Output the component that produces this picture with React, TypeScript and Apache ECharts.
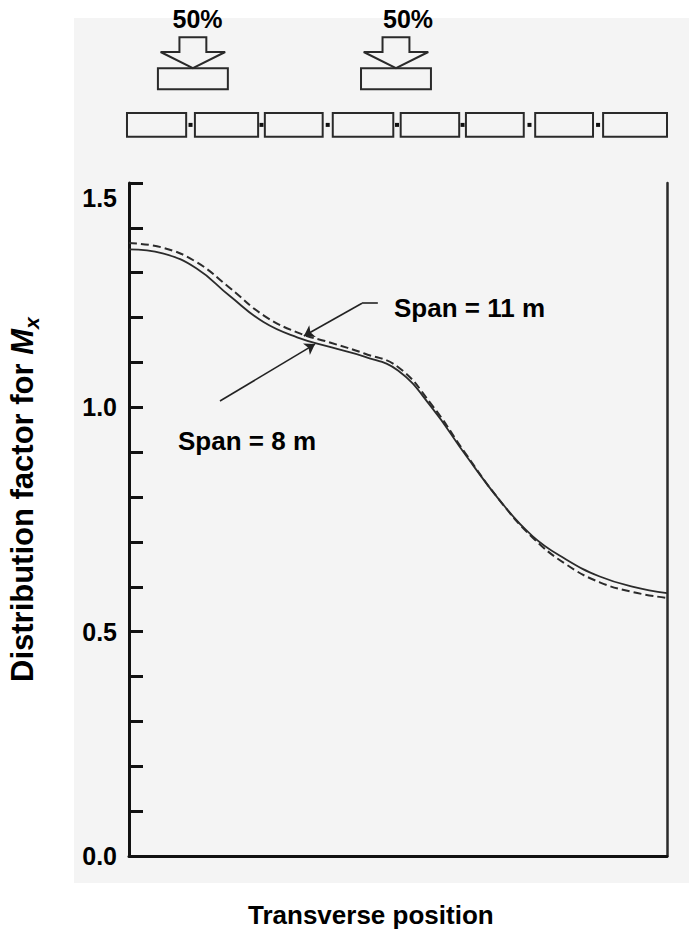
import React, { useEffect, useRef } from "react";
import * as echarts from "echarts";

// Transverse position (beam widths, 0 = left edge beam, 8 = right edge beam)
const positions = [0, 0.5, 1, 1.5, 2, 2.5, 3, 3.5, 4, 4.5, 5, 5.5, 6, 6.5, 7, 7.5, 8];
// Distribution factor for Mx
const span8 = [1.352, 1.343, 1.31, 1.248, 1.19, 1.156, 1.134, 1.113, 1.082, 1.0, 0.895, 0.795, 0.713, 0.661, 0.623, 0.6, 0.586];
const span11 = [1.366, 1.356, 1.324, 1.266, 1.205, 1.167, 1.144, 1.12, 1.09, 1.006, 0.898, 0.795, 0.71, 0.65, 0.61, 0.588, 0.575];

const yTickLabels = ["0.0", "0.5", "1.0", "1.5"];

// beam cross-section boxes (in transverse-position units)
const beamStart = [-0.03, 0.98, 2.02, 3.03, 4.04, 5.01, 6.04, 7.05];
const beamEnd = [0.85, 1.92, 2.88, 3.93, 4.91, 5.87, 6.9, 8.0];

// wheel loads
const loadCenter = [0.95, 3.97];
const loadLabel = ["50%", "50%"];

// annotation pointers
const pointer11 = [[3.7, 1.232], [3.465, 1.232], [2.6, 1.159]];
const pointer8 = [[1.353, 1.014], [2.766, 1.141]];

const FONT = '"Liberation Sans", Arial, Helvetica, sans-serif';

export default function App() {
  const ref = useRef<HTMLDivElement>(null);

  useEffect(() => {
    if (!ref.current) return;
    const chart = echarts.init(ref.current, null, { renderer: "svg" });

    const BEAM_TOP = 1.656;
    const BEAM_BOT = 1.603;
    const BOX_TOP = 1.756;
    const BOX_BOT = 1.709;
    const SHAFT_TOP = 1.825;
    const HEAD_BASE = 1.792;
    const BOX_HALF = 0.52;
    const SHAFT_HALF = 0.2;
    const HEAD_HALF = 0.48;

    const option: any = {
      animation: false,
      backgroundColor: "#ffffff",
      textStyle: { fontFamily: FONT },
      grid: { left: 129, right: 22, top: 183, bottom: 73 },
      xAxis: {
        type: "value",
        min: 0,
        max: 8,
        axisLine: { show: true, onZero: false, lineStyle: { color: "#111", width: 3 } },
        axisTick: { show: false },
        axisLabel: { show: false },
        splitLine: { show: false },
      },
      yAxis: [
        {
          type: "value",
          min: 0,
          max: 1.5,
          interval: 0.1,
          axisLine: { show: true, lineStyle: { color: "#111", width: 3 } },
          axisTick: { show: true, inside: true, length: 14, lineStyle: { color: "#111", width: 3 } },
          axisLabel: {
            margin: 12,
            fontSize: 25,
            fontWeight: "bold",
            color: "#000",
            fontFamily: FONT,
            formatter: (v: number) => {
              const k = Math.round(v * 2);
              if (Math.abs(v * 2 - k) > 1e-6) return "";
              if (k === 3) return "{top|" + yTickLabels[k] + "}";
              return yTickLabels[k] ?? "";
            },
            rich: {
              top: { fontSize: 25, fontWeight: "bold", color: "#000", fontFamily: FONT, padding: [30, 0, 0, 0] },
            },
          },
          splitLine: { show: false },
        },
        {
          type: "value",
          position: "right",
          min: 0,
          max: 1.5,
          axisLine: { show: true, lineStyle: { color: "#2a2a2a", width: 2.5 } },
          axisTick: { show: false },
          axisLabel: { show: false },
          splitLine: { show: false },
        },
      ],
      graphic: [
        {
          type: "rect",
          z: -10,
          silent: true,
          shape: { x: 74, y: 18, width: 615, height: 865 },
          style: { fill: "#f4f4f4" },
        },
        {
          type: "text",
          x: 197.5,
          y: 19,
          style: { text: loadLabel[0], font: `bold 25px ${FONT}`, fill: "#000", textAlign: "center", textVerticalAlign: "middle" },
        },
        {
          type: "text",
          x: 383,
          y: 19,
          style: { text: loadLabel[1], font: `bold 25px ${FONT}`, fill: "#000", textAlign: "left", textVerticalAlign: "middle" },
        },
        {
          type: "text",
          x: 394,
          y: 308,
          style: { text: "Span = 11 m", font: `bold 26px ${FONT}`, fill: "#000", textAlign: "left", textVerticalAlign: "middle" },
        },
        {
          type: "text",
          x: 178,
          y: 441,
          style: { text: "Span = 8 m", font: `bold 26px ${FONT}`, fill: "#000", textAlign: "left", textVerticalAlign: "middle" },
        },
        {
          type: "text",
          x: 248,
          y: 915,
          style: { text: "Transverse position", font: `bold 26px ${FONT}`, fill: "#000", textAlign: "left", textVerticalAlign: "middle" },
        },
        {
          type: "text",
          x: 22,
          y: 682,
          rotation: Math.PI / 2,
          style: {
            text: "Distribution factor for {i|M}{sub|x}",
            font: `bold 31px ${FONT}`,
            fill: "#000",
            textAlign: "left",
            textVerticalAlign: "middle",
            lineHeight: 40,
            rich: {
              i: { fontSize: 31, fontWeight: "bold", fontStyle: "italic", fontFamily: FONT, fill: "#000", lineHeight: 40 },
              sub: { fontSize: 21, fontWeight: "bold", fontStyle: "italic", fontFamily: FONT, fill: "#000", lineHeight: 21, verticalAlign: "bottom" },
            },
          },
        },
      ],
      series: [
        {
          name: "Span = 8 m",
          type: "line",
          data: positions.map((x, i) => [x, span8[i]]),
          showSymbol: false,
          smooth: 0.45,
          lineStyle: { color: "#2b2b2b", width: 1.8, type: "solid" },
          z: 3,
        },
        {
          name: "Span = 11 m",
          type: "line",
          data: positions.map((x, i) => [x, span11[i]]),
          showSymbol: false,
          smooth: 0.45,
          lineStyle: { color: "#2b2b2b", width: 2, type: [8, 4] },
          z: 3,
        },
        {
          type: "lines",
          coordinateSystem: "cartesian2d",
          symbol: ["none", "none"],
          lineStyle: { color: "#222", width: 1.6, opacity: 1 },
          data: [{ coords: [pointer11[0], pointer11[1]] }],
          z: 4,
        },
        {
          type: "lines",
          coordinateSystem: "cartesian2d",
          symbol: ["none", "arrow"],
          symbolSize: 10,
          lineStyle: { color: "#222", width: 1.6, opacity: 1 },
          data: [
            { coords: [pointer11[1], pointer11[2]] },
            { coords: [pointer8[0], pointer8[1]] },
          ],
          z: 4,
        },
        {
          type: "custom",
          clip: false,
          silent: true,
          data: beamStart.map((s, i) => [s, beamEnd[i]]),
          encode: { x: [0, 1] },
          renderItem: (params: any, api: any) => {
            const i = params.dataIndex;
            const p0 = api.coord([api.value(0), BEAM_TOP]);
            const p1 = api.coord([api.value(1), BEAM_BOT]);
            const children: any[] = [
              {
                type: "rect",
                shape: { x: p0[0], y: p0[1], width: p1[0] - p0[0], height: p1[1] - p0[1] },
                style: { fill: "none", stroke: "#2a2a2a", lineWidth: 2 },
              },
            ];
            if (i > 0) {
              const g = api.coord([(beamEnd[i - 1] + beamStart[i]) / 2, (BEAM_TOP + BEAM_BOT) / 2]);
              children.push({
                type: "rect",
                shape: { x: g[0] - 2, y: g[1] - 2, width: 4, height: 4 },
                style: { fill: "#111" },
              });
            }
            return { type: "group", children };
          },
        },
        {
          type: "custom",
          clip: false,
          silent: true,
          data: loadCenter.map((c) => [c]),
          encode: { x: 0 },
          renderItem: (params: any, api: any) => {
            const c = api.value(0);
            const b0 = api.coord([c - BOX_HALF, BOX_TOP]);
            const b1 = api.coord([c + BOX_HALF, BOX_BOT]);
            const sL = api.coord([c - SHAFT_HALF, SHAFT_TOP]);
            const sR = api.coord([c + SHAFT_HALF, SHAFT_TOP]);
            const hbL = api.coord([c - SHAFT_HALF, HEAD_BASE]);
            const hbR = api.coord([c + SHAFT_HALF, HEAD_BASE]);
            const hL = api.coord([c - HEAD_HALF, HEAD_BASE]);
            const hR = api.coord([c + HEAD_HALF, HEAD_BASE]);
            const tip = api.coord([c, BOX_TOP]);
            return {
              type: "group",
              children: [
                {
                  type: "polygon",
                  shape: { points: [sL, sR, hbR, hR, tip, hL, hbL] },
                  style: { fill: "none", stroke: "#2a2a2a", lineWidth: 2 },
                },
                {
                  type: "rect",
                  shape: { x: b0[0], y: b0[1], width: b1[0] - b0[0], height: b1[1] - b0[1] },
                  style: { fill: "none", stroke: "#2a2a2a", lineWidth: 2 },
                },
              ],
            };
          },
        },
      ],
    };

    chart.setOption(option);
    return () => chart.dispose();
  }, []);

  return (
    <div
      ref={ref}
      style={{ position: "absolute", left: 0, top: 0, width: 689, height: 929 }}
    />
  );
}
